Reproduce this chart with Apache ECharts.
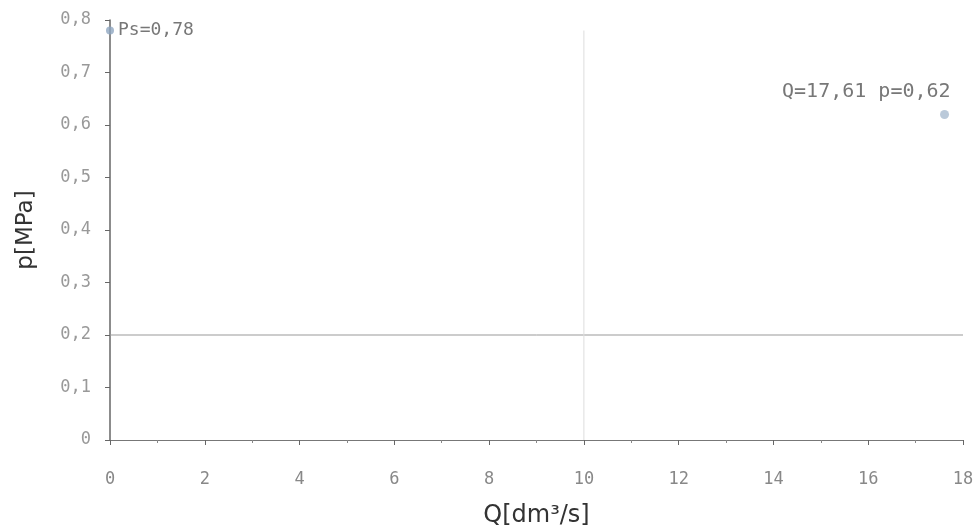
<!DOCTYPE html>
<html><head><meta charset="utf-8">
<script src="https://cdn.jsdelivr.net/npm/echarts@6/dist/echarts.min.js"></script>
<style>html,body{margin:0;padding:0;background:#fff}#c{width:977px;height:530px}</style>
</head><body><div id="c"></div>
<script>
const xTicks = [0, 2, 4, 6, 8, 10, 12, 14, 16, 18];
const yTicks = [0, 0.1, 0.2, 0.3, 0.4, 0.5, 0.6, 0.7, 0.8];
const operatingPoint = [17.61, 0.62];
const operatingLabel = 'Q=17,61 p=0,62';
const shutoffPoint = [0, 0.78];
const shutoffLabel = 'Ps=0,78';
const hLineValue = 0.2;
const vLineValue = 10;
const vLineTop = 0.78;
const xTitle = 'Q[dm³/s]';
const yTitle = 'p[MPa]';

const fmt = v => String(Math.round(v * 10) / 10).replace('.', ',');
const chart = echarts.init(document.getElementById('c'));
chart.setOption({
  backgroundColor: '#fff',
  animation: false,
  grid: { left: 110, right: 14, top: 20, bottom: 90, containLabel: false, outerBoundsMode: 'none' },
  xAxis: {
    type: 'value', min: xTicks[0], max: xTicks[xTicks.length - 1], interval: 2,
    name: xTitle, nameLocation: 'middle', nameGap: 64,
    nameTextStyle: { fontFamily: 'DejaVu Sans', fontSize: 24, color: '#333' },
    axisLine: { show: true, lineStyle: { color: '#777', width: 1 } },
    axisTick: { show: true, length: 5, lineStyle: { color: '#666' } },
    minorTick: { show: true, splitNumber: 2, length: 3, lineStyle: { color: '#888' } },
    splitLine: { show: false },
    axisLabel: { margin: 31, fontFamily: 'DejaVu Sans Mono', fontSize: 17, color: '#888', formatter: v => fmt(v) }
  },
  yAxis: {
    type: 'value', min: yTicks[0], max: yTicks[yTicks.length - 1], interval: 0.1,
    name: yTitle, nameLocation: 'middle', nameGap: 72,
    nameTextStyle: { fontFamily: 'DejaVu Sans', fontSize: 23, color: '#333' },
    axisLine: { show: true, lineStyle: { color: '#666', width: 1.5 } },
    axisTick: { show: true, length: 5, lineStyle: { color: '#666' } },
    splitLine: { show: false },
    axisLabel: { margin: 19, fontFamily: 'DejaVu Sans Mono', fontSize: 17, color: '#999', formatter: v => fmt(v) }
  },
  series: [
    {
      type: 'line', data: [[xTicks[0], hLineValue], [xTicks[xTicks.length - 1], hLineValue]],
      symbol: 'none', silent: true, lineStyle: { color: '#999', width: 1 }
    },
    {
      type: 'line', data: [[vLineValue, yTicks[0]], [vLineValue, vLineTop]],
      symbol: 'none', silent: true, lineStyle: { color: '#ddd', width: 1 }
    },
    {
      type: 'scatter', data: [operatingPoint], symbol: 'circle', symbolSize: 9,
      itemStyle: { color: '#a9bcd0' },
      label: { show: true, position: [-158, -28], align: 'left', verticalAlign: 'top',
        formatter: operatingLabel, fontFamily: 'DejaVu Sans Mono', fontSize: 20, color: '#555' }
    },
    {
      type: 'scatter', data: [shutoffPoint], symbol: 'circle', symbolSize: 8,
      itemStyle: { color: '#8fa6c0' },
      label: { show: true, position: [12, -5], align: 'left', verticalAlign: 'top',
        formatter: shutoffLabel, fontFamily: 'DejaVu Sans Mono', fontSize: 18, color: '#555' }
    }
  ]
});
</script></body></html>
